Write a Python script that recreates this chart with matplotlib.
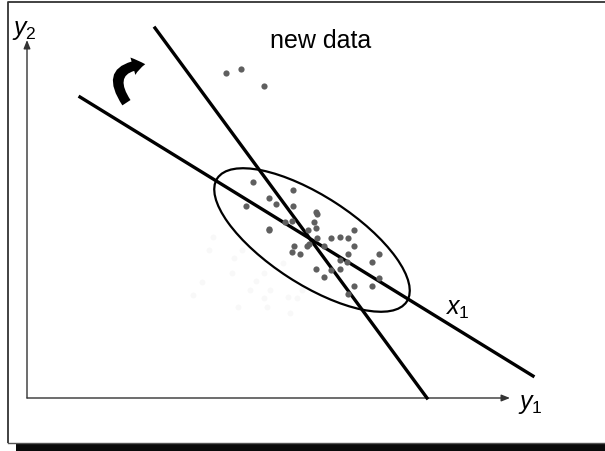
import numpy as np
import matplotlib
matplotlib.use("Agg")
import matplotlib.pyplot as plt
from matplotlib.patches import Ellipse, FancyArrowPatch, Rectangle

plt.rcParams['font.family'] = ['Liberation Sans', 'DejaVu Sans']
plt.rcParams['mathtext.fontset'] = 'custom'
plt.rcParams['mathtext.it'] = 'Liberation Sans:italic'
plt.rcParams['mathtext.rm'] = 'Liberation Sans'

# training cloud (y1, y2)
train_y1 = [226, 266, 242, 249, 219, 266, 289, 290, 258, 265, 287, 242, 242, 281,
            289, 327, 290, 304, 313, 321, 267, 280, 282, 297, 327, 265, 273, 321,
            352, 313, 320, 345, 289, 304, 313, 297, 352, 327, 345, 321]
train_y2 = [216, 208, 200, 194, 192, 192, 186, 184, 176, 177, 176, 169, 168, 168,
            170, 168, 160, 160, 161, 160, 152, 152, 154, 152, 152, 146, 144, 144,
            144, 138, 136, 136, 129, 128, 129, 121, 120, 112, 112, 104]

# new observations
new_y1 = [199, 214, 237]
new_y2 = [325, 329, 312]

# faded earlier samples
old_y1 = [186, 182, 207, 215, 205, 175, 166, 229, 237, 223, 243, 237, 211, 240,
          261, 263, 256, 275, 270]
old_y2 = [161, 148, 140, 148, 125, 116, 103, 117, 125, 108, 108, 100, 91, 91,
          101, 85, 135, 108, 100]

# principal directions: old x1 axis and rotated axis
x1_line = ([53, 506], [301, 22])
rot_line = ([128, 400], [370, 0])

fig = plt.figure(figsize=(6.05, 4.51), dpi=100)
ax = fig.add_axes([0, 0, 1, 1])
ax.set_xlim(-27, 578)
ax.set_ylim(-53, 398)
ax.axis('off')

# slide frame with shadow
ax.plot([-19, -19, 578], [-45, 396, 396], color='#333333', lw=1.3, solid_capstyle='butt')
ax.plot([-19, 578], [-45, -45], color='#555555', lw=1.0)
ax.add_patch(Rectangle((-11, -53), 589, 8, color='#0a0a0a', lw=0))

# coordinate axes
ax.annotate('', xy=(0, 358), xytext=(0, 0),
            arrowprops=dict(arrowstyle='-|>,head_length=0.5,head_width=0.2',
                            color='#333333', lw=1.0, shrinkA=0, shrinkB=0))
ax.annotate('', xy=(483, 0), xytext=(0, 0),
            arrowprops=dict(arrowstyle='-|>,head_length=0.5,head_width=0.2',
                            color='#333333', lw=1.0, shrinkA=0, shrinkB=0))

ax.scatter(old_y1, old_y2, s=18, color='#f8f8f8', lw=0, zorder=2)

ell = Ellipse((285, 158), width=226, height=88, angle=-33, fill=False,
              edgecolor='black', lw=1.6, zorder=3)
ax.add_patch(ell)

ax.plot(*x1_line, color='black', lw=2.4, zorder=4)
ax.plot(*rot_line, color='black', lw=2.4, zorder=4)

ax.scatter(train_y1, train_y2, s=20, color='#5f5f5f', lw=0, zorder=5)
ax.scatter(new_y1, new_y2, s=20, color='#5f5f5f', lw=0, zorder=5)

# rotation arrow
rot = FancyArrowPatch((101, 293), (121, 334), connectionstyle='arc3,rad=-0.9',
                      arrowstyle='simple,head_width=13,head_length=9,tail_width=7',
                      color='black', lw=0, mutation_scale=1, zorder=6)
ax.add_patch(rot)

ax.text(294, 357, 'new data', fontsize=18, ha='center', va='center')
ax.text(-3, 368, r'$y_2$', fontsize=18, ha='center', va='center')
ax.text(503, -6, r'$y_1$', fontsize=18, ha='center', va='center')
ax.text(430, 89, r'$x_1$', fontsize=18, ha='center', va='center')

fig.savefig('out.png', dpi=100)
